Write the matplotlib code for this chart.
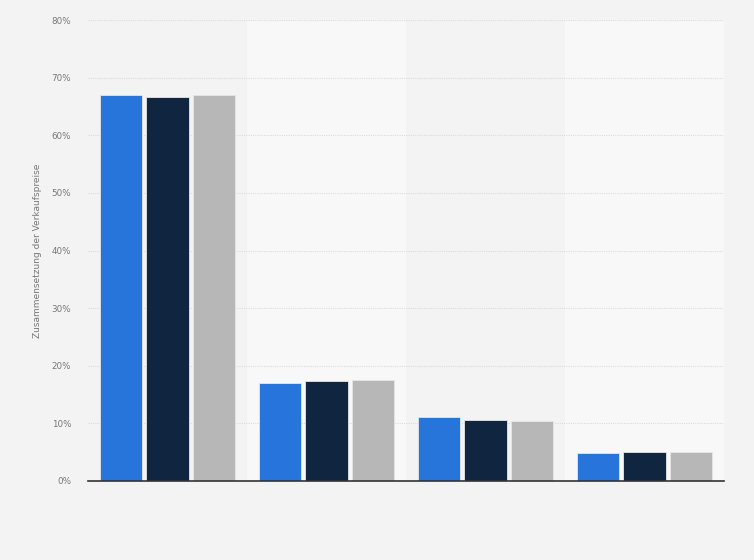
import matplotlib.pyplot as plt
import numpy as np

# Data (Anteile in %)
categories = ["A", "B", "C", "D"]
series_1 = [66.9, 17.0, 11.1, 4.8]
series_2 = [66.7, 17.3, 10.5, 5.1]
series_3 = [66.9, 17.5, 10.4, 5.0]
colors = ["#2775db", "#0f2540", "#b7b7b7"]

x = np.arange(len(categories))
bar_width = 0.265
step = 0.29

fig = plt.figure(figsize=(7.54, 5.6), dpi=100, facecolor="#f3f3f3")
ax = fig.add_axes([88 / 754, 1 - 481 / 560, (724 - 88) / 754, (481 - 20) / 560])
ax.set_facecolor("#f3f3f3")

# alternating column bands
for i in x:
    if i % 2 == 1:
        ax.axvspan(i - 0.5, i + 0.5, color="#f8f8f8", zorder=0, lw=0)

for k, (vals, c) in enumerate(zip([series_1, series_2, series_3], colors)):
    ax.bar(x + (k - 1) * step, vals, bar_width, color=c,
           edgecolor="#e6e6e6", linewidth=0.6, zorder=3)

ax.set_xlim(-0.5, len(categories) - 0.5)
ax.set_ylim(0, 80)
ax.set_yticks(np.arange(0, 81, 10))
ax.set_yticklabels([f"{v}%" for v in range(0, 81, 10)], color="#777777", fontsize=6.3)
ax.set_xticks([])
ax.tick_params(axis="y", length=0, pad=12)
ax.yaxis.grid(True, linestyle=(0, (1, 1)), color="#dcdcdc", linewidth=0.8, zorder=1)

for side in ["top", "right", "left"]:
    ax.spines[side].set_visible(False)
ax.spines["bottom"].set_color("#333333")
ax.spines["bottom"].set_linewidth(1.2)
ax.spines["bottom"].set_zorder(4)

ax.set_ylabel("Zusammensetzung der Verkaufspreise", color="#777777", fontsize=6.5)
ax.yaxis.set_label_coords(-46 / 636, 0.5)

fig.savefig("out.png", dpi=100, facecolor=fig.get_facecolor())
